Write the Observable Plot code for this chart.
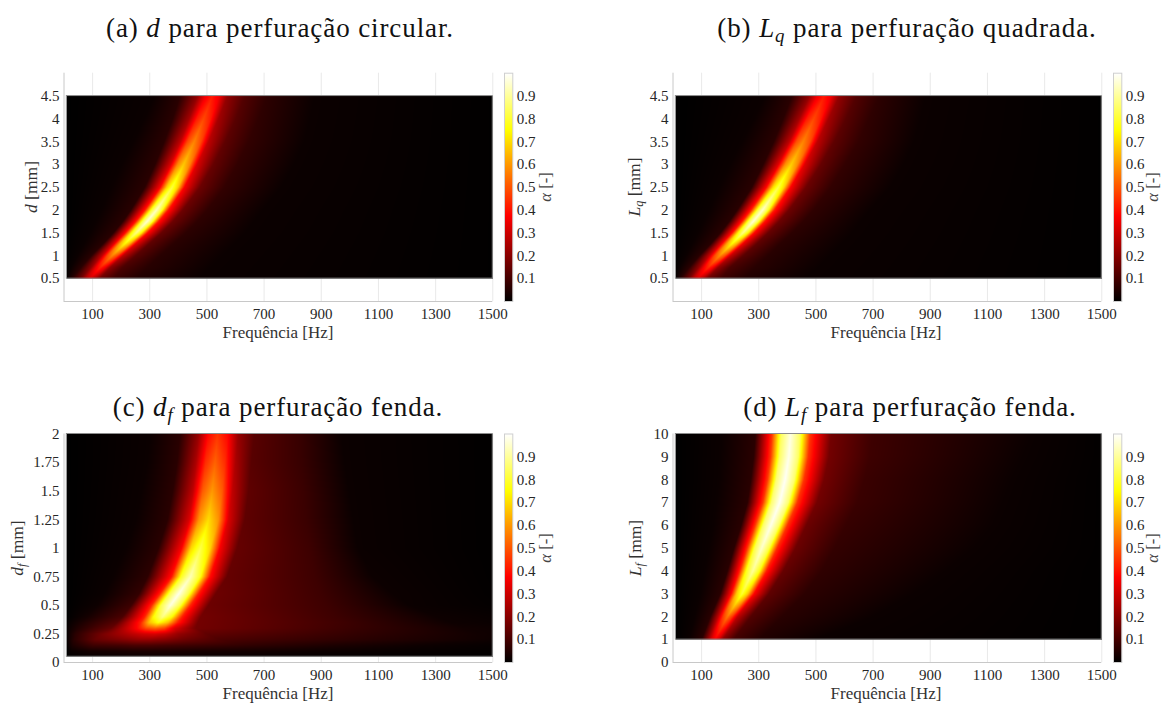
<!DOCTYPE html>
<html>
<head>
<meta charset="utf-8">
<script src="https://cdn.jsdelivr.net/npm/d3@7"></script>
<script src="https://cdn.jsdelivr.net/npm/@observablehq/plot@0.6"></script>
<style>
  html, body { margin: 0; padding: 0; background: #ffffff; }
  #fig { position: relative; width: 1166px; height: 705px; overflow: hidden; font-family: "Liberation Serif", "Times New Roman", serif; color: #262626; }
  .abs { position: absolute; }
  .title { font-size: 27px; letter-spacing: 0.9px; white-space: nowrap; transform: translate(-50%, -50%); color: #111; }
  .xlab { font-size: 17px; white-space: nowrap; transform: translate(-50%, -50%); color: #333; }
  .ylab { font-size: 17.5px; white-space: nowrap; transform: translate(-50%, -50%) rotate(-90deg); color: #333; }
  .clab { font-size: 16.5px; white-space: nowrap; transform: translate(-50%, -50%) rotate(-90deg); color: #444; }
  sub { font-size: 70%; vertical-align: -0.3em; line-height: 0; }
</style>
</head>
<body>
<div id="fig"></div>
<script>
// ---------- shared axes / colour data ----------
const freqTicks = [100, 300, 500, 700, 900, 1100, 1300, 1500];
const freqDomain = [0, 1500];
const freqRange = [10, 1500];
const alphaTicks = [0.1, 0.2, 0.3, 0.4, 0.5, 0.6, 0.7, 0.8, 0.9];
const hotStops = ["#000000", "#550000", "#aa0000", "#ff0000", "#ff5500", "#ffaa00", "#ffff00", "#ffff80", "#ffffff"];

// ---------- (a) d, circular perforation ----------
// each row: [d (mm), frequencies (Hz) of profile features, absorption α at those features]
const circTicks = [0.5, 1, 1.5, 2, 2.5, 3, 3.5, 4, 4.5];
const circDomain = [0, 5];
const circRange = [0.5, 4.5];
const circRows = [
  [0.5,  [10, 14, 28, 58, 75, 90, 106, 125, 175, 255, 480, 1500],     [0.012, 0.02, 0.06, 0.16, 0.26, 0.31, 0.26, 0.16, 0.09, 0.05, 0.016, 0.002]],
  [0.75, [10, 25, 60, 95, 113, 128, 144, 162, 205, 290, 520, 1500],   [0.005, 0.016, 0.06, 0.21, 0.36, 0.43, 0.36, 0.21, 0.11, 0.06, 0.016, 0.002]],
  [1.0,  [10, 45, 95, 132, 151, 168, 186, 205, 250, 335, 560, 1500],  [0.003, 0.016, 0.06, 0.28, 0.48, 0.57, 0.48, 0.28, 0.13, 0.06, 0.016, 0.002]],
  [1.25, [10, 68, 135, 173, 193, 210, 228, 248, 295, 380, 600, 1500], [0.002, 0.016, 0.06, 0.34, 0.62, 0.74, 0.62, 0.34, 0.14, 0.062, 0.016, 0.002]],
  [1.5,  [10, 90, 172, 214, 235, 252, 270, 291, 340, 425, 640, 1500], [0.001, 0.016, 0.06, 0.39, 0.74, 0.88, 0.74, 0.39, 0.15, 0.065, 0.016, 0.002]],
  [1.75, [10, 110, 205, 251, 273, 290, 308, 330, 380, 465, 670, 1500], [0, 0.016, 0.06, 0.41, 0.81, 0.96, 0.81, 0.41, 0.16, 0.068, 0.016, 0.002]],
  [2.0,  [10, 130, 233, 283, 305, 323, 342, 364, 415, 500, 700, 1500], [0, 0.016, 0.06, 0.41, 0.79, 0.94, 0.79, 0.41, 0.16, 0.07, 0.016, 0.002]],
  [2.5,  [10, 165, 282, 336, 359, 378, 398, 421, 475, 560, 765, 1500], [0, 0.016, 0.06, 0.37, 0.68, 0.81, 0.68, 0.37, 0.16, 0.075, 0.016, 0.002]],
  [3.0,  [10, 200, 318, 373, 397, 418, 440, 465, 522, 605, 810, 1500], [0, 0.016, 0.06, 0.32, 0.57, 0.67, 0.57, 0.32, 0.15, 0.075, 0.016, 0.002]],
  [3.5,  [10, 240, 350, 407, 432, 455, 479, 505, 563, 645, 845, 1500], [0, 0.016, 0.06, 0.28, 0.48, 0.57, 0.48, 0.28, 0.14, 0.075, 0.016, 0.002]],
  [4.0,  [10, 280, 380, 437, 464, 488, 513, 540, 600, 680, 865, 1500], [0, 0.016, 0.06, 0.24, 0.41, 0.48, 0.41, 0.24, 0.13, 0.07, 0.016, 0.002]],
  [4.5,  [10, 315, 405, 466, 494, 518, 543, 572, 632, 712, 880, 1500], [0, 0.016, 0.06, 0.21, 0.35, 0.41, 0.35, 0.21, 0.12, 0.065, 0.016, 0.002]]
];

// ---------- (b) Lq, square perforation ----------
const squareTicks = [0.5, 1, 1.5, 2, 2.5, 3, 3.5, 4, 4.5];
const squareDomain = [0, 5];
const squareRange = [0.5, 4.5];
const squareRows = [
  [0.5,  [10, 13, 26, 54, 71, 86, 102, 121, 170, 250, 470, 1500],     [0.012, 0.02, 0.06, 0.16, 0.27, 0.32, 0.27, 0.16, 0.09, 0.05, 0.016, 0.002]],
  [0.75, [10, 23, 57, 91, 109, 124, 140, 158, 200, 285, 515, 1500],   [0.005, 0.016, 0.06, 0.22, 0.37, 0.44, 0.37, 0.22, 0.11, 0.06, 0.016, 0.002]],
  [1.0,  [10, 43, 92, 127, 146, 163, 181, 200, 245, 330, 555, 1500],  [0.003, 0.016, 0.06, 0.29, 0.49, 0.58, 0.49, 0.29, 0.13, 0.06, 0.016, 0.002]],
  [1.25, [10, 65, 130, 167, 187, 204, 222, 242, 290, 372, 595, 1500], [0.002, 0.016, 0.06, 0.35, 0.62, 0.74, 0.62, 0.35, 0.14, 0.062, 0.016, 0.002]],
  [1.5,  [10, 86, 165, 206, 227, 244, 262, 283, 332, 415, 632, 1500], [0.001, 0.016, 0.06, 0.39, 0.74, 0.88, 0.74, 0.39, 0.15, 0.065, 0.016, 0.002]],
  [1.75, [10, 105, 196, 241, 263, 280, 298, 320, 370, 455, 662, 1500], [0, 0.016, 0.06, 0.41, 0.81, 0.96, 0.81, 0.41, 0.16, 0.068, 0.016, 0.002]],
  [2.0,  [10, 125, 224, 273, 295, 313, 332, 354, 405, 490, 695, 1500], [0, 0.016, 0.06, 0.42, 0.80, 0.95, 0.80, 0.42, 0.16, 0.07, 0.016, 0.002]],
  [2.5,  [10, 160, 275, 326, 349, 368, 388, 411, 465, 550, 765, 1500], [0, 0.016, 0.06, 0.38, 0.69, 0.82, 0.69, 0.38, 0.16, 0.075, 0.016, 0.002]],
  [3.0,  [10, 198, 315, 368, 392, 413, 435, 460, 517, 600, 812, 1500], [0, 0.016, 0.06, 0.33, 0.58, 0.68, 0.58, 0.33, 0.15, 0.075, 0.016, 0.002]],
  [3.5,  [10, 240, 352, 407, 432, 455, 479, 505, 563, 648, 848, 1500], [0, 0.016, 0.06, 0.28, 0.49, 0.57, 0.49, 0.28, 0.14, 0.075, 0.016, 0.002]],
  [4.0,  [10, 282, 385, 441, 468, 492, 517, 544, 604, 685, 870, 1500], [0, 0.016, 0.06, 0.24, 0.41, 0.48, 0.41, 0.24, 0.13, 0.07, 0.016, 0.002]],
  [4.5,  [10, 320, 415, 476, 504, 528, 553, 582, 642, 722, 888, 1500], [0, 0.016, 0.06, 0.21, 0.35, 0.41, 0.35, 0.21, 0.12, 0.065, 0.016, 0.002]]
];

// ---------- (c) df, slit perforation ----------
const slitWidthTicks = [0, 0.25, 0.5, 0.75, 1, 1.25, 1.5, 1.75, 2];
const slitWidthDomain = [0, 2];
const slitWidthRange = [0.05, 2];
const slitWidthRows = [
  [0.05, [10, 20, 80, 160, 230, 300, 380, 470, 650, 900, 1200, 1500],  [0, 0.005, 0.01, 0.012, 0.014, 0.015, 0.015, 0.014, 0.012, 0.008, 0.005, 0.003]],
  [0.1,  [10, 25, 90, 180, 240, 300, 370, 460, 650, 900, 1200, 1500],  [0, 0.015, 0.03, 0.035, 0.04, 0.04, 0.04, 0.035, 0.03, 0.02, 0.012, 0.006]],
  [0.15, [10, 30, 100, 200, 250, 300, 360, 450, 650, 960, 1250, 1500], [0.005, 0.04, 0.09, 0.10, 0.11, 0.11, 0.10, 0.09, 0.07, 0.04, 0.02, 0.01]],
  [0.2,  [10, 35, 110, 220, 260, 300, 350, 420, 550, 1100, 1450, 1500], [0.01, 0.06, 0.15, 0.20, 0.22, 0.22, 0.20, 0.16, 0.11, 0.055, 0.025, 0.02]],
  [0.25, [10, 40, 140, 240, 280, 318, 355, 400, 500, 1050, 1450, 1500], [0.01, 0.06, 0.18, 0.28, 0.31, 0.32, 0.29, 0.22, 0.14, 0.07, 0.025, 0.022]],
  [0.3,  [10, 50, 165, 255, 287, 318, 350, 385, 460, 1000, 1400, 1500], [0.01, 0.05, 0.15, 0.38, 0.48, 0.52, 0.48, 0.33, 0.17, 0.085, 0.025, 0.02]],
  [0.35, [10, 60, 185, 268, 299, 330, 363, 398, 468, 980, 1350, 1500], [0.005, 0.04, 0.13, 0.42, 0.66, 0.76, 0.66, 0.42, 0.17, 0.09, 0.02, 0.015]],
  [0.4,  [10, 80, 205, 282, 313, 345, 378, 413, 478, 950, 1300, 1500], [0, 0.03, 0.11, 0.42, 0.75, 0.88, 0.75, 0.42, 0.17, 0.09, 0.02, 0.012]],
  [0.5,  [10, 115, 235, 306, 339, 372, 406, 442, 505, 920, 1210, 1500], [0, 0.02, 0.09, 0.43, 0.82, 0.97, 0.82, 0.43, 0.16, 0.09, 0.016, 0.006]],
  [0.6,  [10, 140, 262, 335, 368, 401, 435, 470, 530, 900, 1150, 1500], [0, 0.016, 0.075, 0.42, 0.82, 0.98, 0.82, 0.42, 0.16, 0.09, 0.018, 0.004]],
  [0.75, [10, 170, 292, 376, 409, 442, 476, 510, 570, 880, 1080, 1500], [0, 0.016, 0.065, 0.40, 0.78, 0.93, 0.78, 0.40, 0.15, 0.09, 0.018, 0.003]],
  [1.0,  [10, 215, 330, 411, 444, 477, 511, 545, 605, 860, 1030, 1500], [0, 0.016, 0.06, 0.37, 0.69, 0.82, 0.69, 0.37, 0.15, 0.09, 0.016, 0.002]],
  [1.25, [10, 250, 362, 438, 472, 505, 540, 575, 632, 850, 1015, 1500], [0, 0.016, 0.06, 0.32, 0.59, 0.70, 0.59, 0.32, 0.14, 0.085, 0.016, 0.002]],
  [1.5,  [10, 270, 380, 451, 485, 518, 553, 589, 645, 840, 1000, 1500], [0, 0.016, 0.06, 0.28, 0.51, 0.60, 0.51, 0.28, 0.14, 0.085, 0.016, 0.002]],
  [1.75, [10, 290, 395, 461, 495, 528, 563, 600, 655, 835, 985, 1500], [0, 0.016, 0.06, 0.25, 0.44, 0.52, 0.44, 0.25, 0.13, 0.08, 0.016, 0.002]],
  [2.0,  [10, 300, 405, 470, 504, 537, 573, 610, 665, 830, 975, 1500], [0, 0.016, 0.06, 0.22, 0.38, 0.45, 0.38, 0.22, 0.13, 0.08, 0.016, 0.002]]
];

// ---------- (d) Lf, slit perforation ----------
const slitLengthTicks = [0, 1, 2, 3, 4, 5, 6, 7, 8, 9, 10];
const slitLengthDomain = [0, 10];
const slitLengthRange = [1, 10];
const slitLengthRows = [
  [1,   [10, 55, 100, 120, 134, 146, 159, 174, 212, 300, 506, 1500],   [0, 0.016, 0.06, 0.20, 0.31, 0.37, 0.31, 0.20, 0.10, 0.05, 0.016, 0.002]],
  [1.5, [10, 65, 115, 139, 154, 168, 183, 200, 242, 340, 610, 1500],   [0, 0.016, 0.06, 0.24, 0.38, 0.45, 0.38, 0.24, 0.11, 0.055, 0.016, 0.002]],
  [2,   [10, 75, 130, 158, 175, 190, 206, 225, 272, 380, 708, 1500],   [0, 0.016, 0.06, 0.28, 0.46, 0.55, 0.46, 0.28, 0.12, 0.06, 0.016, 0.002]],
  [3,   [10, 95, 165, 203, 222, 241, 261, 283, 335, 460, 850, 1500],   [0, 0.016, 0.06, 0.38, 0.67, 0.80, 0.67, 0.38, 0.14, 0.065, 0.016, 0.002]],
  [4,   [10, 110, 190, 233, 256, 279, 302, 327, 385, 520, 961, 1500],  [0, 0.016, 0.06, 0.42, 0.77, 0.90, 0.77, 0.42, 0.15, 0.07, 0.016, 0.002]],
  [5,   [10, 125, 213, 259, 285, 310, 336, 364, 428, 565, 1060, 1500], [0, 0.016, 0.06, 0.44, 0.82, 0.95, 0.82, 0.44, 0.16, 0.075, 0.016, 0.003]],
  [6,   [10, 140, 238, 287, 315, 342, 370, 400, 466, 605, 1125, 1500], [0, 0.016, 0.06, 0.45, 0.85, 0.98, 0.85, 0.45, 0.16, 0.08, 0.016, 0.003]],
  [7,   [10, 150, 260, 314, 344, 373, 403, 435, 503, 645, 1160, 1500], [0, 0.016, 0.06, 0.45, 0.86, 0.99, 0.86, 0.45, 0.17, 0.085, 0.016, 0.003]],
  [8,   [10, 160, 272, 330, 361, 392, 424, 458, 528, 670, 1190, 1500], [0, 0.016, 0.06, 0.45, 0.86, 0.99, 0.86, 0.45, 0.17, 0.085, 0.016, 0.003]],
  [9,   [10, 165, 282, 341, 373, 405, 438, 473, 545, 690, 1230, 1500], [0, 0.016, 0.06, 0.45, 0.85, 0.98, 0.85, 0.45, 0.17, 0.09, 0.016, 0.004]],
  [10,  [10, 170, 288, 346, 378, 411, 444, 480, 553, 700, 1264, 1500], [0, 0.016, 0.06, 0.45, 0.84, 0.97, 0.84, 0.45, 0.17, 0.09, 0.016, 0.004]]
];

// ---------- rendering helpers ----------
const hot = d3.piecewise(d3.interpolateRgb, hotStops);
const colorScale = {type: "linear", domain: [0, 1], interpolate: hot, clamp: true};
const fontStyle = {fontFamily: "'Liberation Serif', 'Times New Roman', serif", fontSize: "15px", color: "#262626", background: "transparent", overflow: "visible"};

// Raster interpolator: between two measured rows, corresponding profile features are
// blended, then values are read linearly along each pixel row.
function rowMorph(index, w, h, X, Y, V) {
  const byRow = new Map();
  for (const i of index) {
    const k = Y[i];
    if (!byRow.has(k)) byRow.set(k, []);
    byRow.get(k).push(i);
  }
  const rows = Array.from(byRow, ([y, ids]) => ({y, xs: ids.map(i => X[i]), vs: ids.map(i => V[i])}))
    .sort((p, q) => p.y - q.y);
  const m = rows[0].xs.length;
  const out = new Float64Array(w * h);
  const xs = new Float64Array(m), vs = new Float64Array(m);
  for (let py = 0; py < h; py++) {
    const yc = py + 0.5;
    let k = 0;
    while (k < rows.length - 2 && rows[k + 1].y < yc) k++;
    const A = rows[k], B = rows[Math.min(k + 1, rows.length - 1)];
    const t = B.y === A.y ? 0 : Math.max(0, Math.min(1, (yc - A.y) / (B.y - A.y)));
    for (let j = 0; j < m; j++) {
      xs[j] = A.xs[j] + (B.xs[j] - A.xs[j]) * t;
      vs[j] = A.vs[j] + (B.vs[j] - A.vs[j]) * t;
    }
    let j = 0;
    for (let px = 0; px < w; px++) {
      const xc = px + 0.5;
      while (j < m - 2 && xs[j + 1] < xc) j++;
      const u = Math.max(0, Math.min(1, (xc - xs[j]) / (xs[j + 1] - xs[j])));
      out[py * w + px] = vs[j] + (vs[j + 1] - vs[j]) * u;
    }
  }
  return out;
}

function heatPanel(p) {
  const pts = p.rows.flatMap(([y, fs, as]) => fs.map((f, j) => ({f, y, a: as[j]})));
  return Plot.plot({
    width: 500, height: p.height,
    marginLeft: 63.5, marginRight: 7.7, marginTop: p.mt, marginBottom: p.mb,
    style: fontStyle,
    x: {domain: freqDomain, ticks: freqTicks, tickSize: 0, tickPadding: 7, tickFormat: d => String(d), label: null, grid: true},
    y: {domain: p.domain, ticks: p.ticks, tickSize: 0, tickPadding: 4.5, tickFormat: d => String(d), label: null},
    color: colorScale,
    marks: [
      Plot.raster(pts, {x: "f", y: "y", fill: "a", x1: freqRange[0], x2: freqRange[1], y1: p.range[0], y2: p.range[1], interpolate: rowMorph}),
      Plot.rect([p.range], {x1: freqRange[0], x2: freqRange[1], y1: d => d[0], y2: d => d[1], fill: "none", stroke: "#8c8c8c", strokeWidth: 1}),
      Plot.ruleX([freqDomain[0]], {stroke: "#c8c8c8"}),
      Plot.ruleY([p.domain[0]], {stroke: "#c8c8c8"})
    ]
  });
}

function colorBar(p) {
  return Plot.plot({
    width: 70, height: p.height,
    marginLeft: 0, marginRight: 61.7, marginTop: p.mt, marginBottom: p.mb,
    style: fontStyle,
    x: {domain: [0, 1], axis: null},
    y: {domain: [0, 1], ticks: alphaTicks, tickSize: 0, tickPadding: 4, tickFormat: d => d.toFixed(1), axis: "right", label: null},
    color: colorScale,
    marks: [
      Plot.raster({fill: (x, y) => y, x1: 0, x2: 1, y1: 0, y2: 1}),
      Plot.frame({stroke: "#cfcfcf"})
    ]
  });
}

const fig = document.getElementById("fig");
function place(el, left, top) {
  el.style.position = "absolute";
  el.style.left = left + "px";
  el.style.top = top + "px";
  fig.appendChild(el);
}
function text(cls, html, x, y) {
  const d = document.createElement("div");
  d.className = "abs " + cls;
  d.innerHTML = html;
  d.style.left = x + "px";
  d.style.top = y + "px";
  fig.appendChild(d);
}

const panels = [
  {rows: circRows, ticks: circTicks, domain: circDomain, range: circRange, left: 0, top: 50, height: 300, mt: 22.7, mb: 49,
   title: "(a) <i>d</i> para perfuração circular.", tx: 280, ty: 28,
   ylab: "<i>d</i> [mm]", yx: 31, yy: 187, xlx: 278, xly: 333, cbx: 504, clx: 546},
  {rows: squareRows, ticks: squareTicks, domain: squareDomain, range: squareRange, left: 608.5, top: 50, height: 300, mt: 22.7, mb: 49,
   title: "(b) <i>L<sub>q</sub></i> para perfuração quadrada.", tx: 907, ty: 28,
   ylab: "<i>L<sub>q</sub></i> [mm]", yx: 634, yy: 187, xlx: 886, xly: 333, cbx: 1112.5, clx: 1153},
  {rows: slitWidthRows, ticks: slitWidthTicks, domain: slitWidthDomain, range: slitWidthRange, left: 0, top: 420, height: 285, mt: 13.5, mb: 43,
   title: "(c) <i>d<sub>f</sub></i> para perfuração fenda.", tx: 278, ty: 407,
   ylab: "<i>d<sub>f</sub></i> [mm]", yx: 17, yy: 548, xlx: 278, xly: 694, cbx: 504, clx: 546},
  {rows: slitLengthRows, ticks: slitLengthTicks, domain: slitLengthDomain, range: slitLengthRange, left: 608.5, top: 420, height: 285, mt: 13.5, mb: 43,
   title: "(d) <i>L<sub>f</sub></i> para perfuração fenda.", tx: 910, ty: 407,
   ylab: "<i>L<sub>f</sub></i> [mm]", yx: 635, yy: 548, xlx: 886, xly: 694, cbx: 1112.5, clx: 1153}
];

for (const p of panels) {
  place(heatPanel(p), p.left, p.top);
  place(colorBar(p), p.cbx, p.top);
  text("title", p.title, p.tx, p.ty);
  text("ylab", p.ylab, p.yx, p.yy);
  text("xlab", "Frequência [Hz]", p.xlx, p.xly);
  text("clab", "<i>α</i> [-]", p.clx, p.yy);
}
</script>
</body>
</html>
